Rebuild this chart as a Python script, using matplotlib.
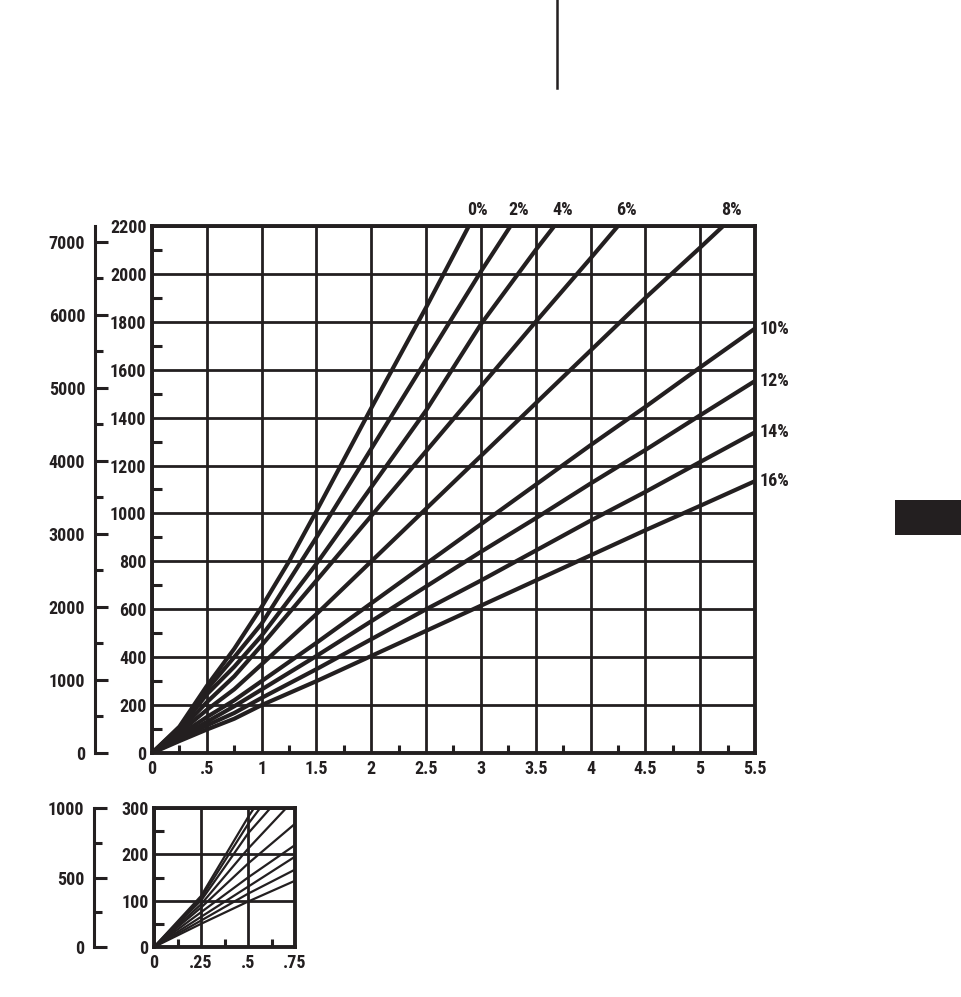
import matplotlib
matplotlib.use('Agg')
import matplotlib.pyplot as plt
from matplotlib.ticker import MultipleLocator
from matplotlib.lines import Line2D
from matplotlib.patches import Rectangle
import numpy as np

plt.rcParams['font.family'] = ['Roboto Condensed', 'Roboto', 'DejaVu Sans']
plt.rcParams['font.weight'] = 'bold'

# ---------------- data ----------------
grades = ['0%', '2%', '4%', '6%', '8%', '10%', '12%', '14%', '16%']

x_0 = [0, 0.25, 0.375, 0.5, 0.75, 1.0, 1.25, 1.5, 2.0, 2.5, 2.89]
y_0 = [0, 110, 195, 280, 435, 610, 800, 1010, 1440, 1860, 2200]

x_2 = [0, 0.25, 0.375, 0.5, 0.75, 1.0, 1.5, 2.0, 2.5, 3.0, 3.27]
y_2 = [0, 105, 185, 265, 400, 540, 900, 1270, 1640, 2010, 2200]

x_4 = [0, 0.25, 0.375, 0.5, 0.75, 1.0, 1.5, 2.0, 2.5, 3.0, 3.5, 3.67]
y_4 = [0, 100, 172, 245, 360, 490, 790, 1110, 1430, 1790, 2100, 2200]

x_6 = [0, 0.25, 0.5, 0.75, 1.0, 1.5, 2.0, 2.5, 3.0, 3.5, 4.0, 4.25]
y_6 = [0, 92, 212, 320, 450, 720, 990, 1260, 1530, 1800, 2065, 2200]

x_8 = [0, 0.25, 0.5, 0.75, 1.0, 1.5, 2.0, 2.5, 3.0, 3.5, 4.0, 4.5, 5.0, 5.21]
y_8 = [0, 85, 180, 266, 370, 580, 800, 1020, 1240, 1460, 1680, 1900, 2110, 2200]

x_10 = [0, 0.25, 0.5, 0.75, 1.0, 1.5, 2.0, 2.5, 3.0, 3.5, 4.0, 4.5, 5.0, 5.5]
y_10 = [0, 75, 150, 220, 300, 460, 625, 790, 955, 1120, 1285, 1445, 1610, 1772]

x_12 = [0, 0.25, 0.5, 0.75, 1.0, 1.5, 2.0, 2.5, 3.0, 3.5, 4.0, 4.5, 5.0, 5.5]
y_12 = [0, 65, 130, 195, 265, 405, 550, 695, 840, 980, 1125, 1265, 1410, 1553]

x_14 = [0, 0.25, 0.5, 0.75, 1.0, 1.5, 2.0, 2.5, 3.0, 3.5, 4.0, 4.5, 5.0, 5.5]
y_14 = [0, 57, 115, 167, 230, 350, 475, 600, 720, 845, 970, 1090, 1215, 1339]

x_16 = [0, 0.25, 0.5, 0.75, 1.0, 1.5, 2.0, 2.5, 3.0, 3.5, 4.0, 4.5, 5.0, 5.5]
y_16 = [0, 50, 98, 143, 200, 300, 405, 510, 615, 720, 825, 930, 1032, 1135]

series_x = [x_0, x_2, x_4, x_6, x_8, x_10, x_12, x_14, x_16]
series_y = [y_0, y_2, y_4, y_6, y_8, y_10, y_12, y_14, y_16]

main_xticks = [0, 0.5, 1, 1.5, 2, 2.5, 3, 3.5, 4, 4.5, 5, 5.5]
main_xlabels = ['0', '.5', '1', '1.5', '2', '2.5', '3', '3.5', '4', '4.5', '5', '5.5']
main_yticks = [0, 200, 400, 600, 800, 1000, 1200, 1400, 1600, 1800, 2000, 2200]
main_ft_ticks = [0, 1000, 2000, 3000, 4000, 5000, 6000, 7000]

inset_xticks = [0, 0.25, 0.5, 0.75]
inset_xlabels = ['0', '.25', '.5', '.75']
inset_yticks = [0, 100, 200, 300]
inset_ft_ticks = [0, 500, 1000]

M_TO_FT = 3.28084
INK = '#231f20'
FS = 13

# ---------------- figure ----------------
W, H = 962, 997
fig = plt.figure(figsize=(W / 100, H / 100), dpi=100)


def frac(x0, y_top, x1, y_bot):
    return [x0 / W, 1 - y_bot / H, (x1 - x0) / W, (y_bot - y_top) / H]


def style_axes(ax, xminor, yminor, fs, grid_lw, spine_lw):
    ax.grid(True, color=INK, lw=grid_lw)
    ax.set_axisbelow(True)
    for s in ax.spines.values():
        s.set_linewidth(spine_lw)
        s.set_color(INK)
    ax.xaxis.set_minor_locator(MultipleLocator(xminor))
    ax.yaxis.set_minor_locator(MultipleLocator(yminor))
    ax.tick_params(which='major', length=0, labelsize=fs, colors=INK)
    ax.tick_params(axis='y', which='minor', direction='in', length=7, width=2.2, color=INK)
    ax.tick_params(axis='x', which='minor', direction='in', length=6, width=2.2, color=INK)
    ax.tick_params(axis='y', which='major', pad=4)
    ax.tick_params(axis='x', which='major', pad=5)


def feet_axis(rect, ymax_m, ticks, minor, fs):
    a = fig.add_axes(rect)
    a.set_ylim(0, ymax_m * M_TO_FT)
    a.set_xticks([])
    for k in ['top', 'right', 'bottom']:
        a.spines[k].set_visible(False)
    a.spines['left'].set_linewidth(2.2)
    a.spines['left'].set_color(INK)
    a.patch.set_alpha(0)
    a.set_yticks(ticks)
    a.set_yticklabels([str(t) for t in ticks])
    a.yaxis.set_minor_locator(MultipleLocator(minor))
    a.tick_params(which='major', direction='in', length=9, width=2.2,
                  labelsize=fs, pad=7, colors=INK)
    a.tick_params(which='minor', direction='in', length=5.5, width=2.2, color=INK)
    return a


# main chart
ax = fig.add_axes(frac(152, 226, 755, 753))
ax.set_xlim(0, 5.5)
ax.set_ylim(0, 2200)
ax.set_xticks(main_xticks)
ax.set_xticklabels(main_xlabels)
ax.set_yticks(main_yticks)
ax.set_yticklabels([str(t) for t in main_yticks])
style_axes(ax, 0.25, 100, FS, 2.0, 2.8)
for xs, ys in zip(series_x, series_y):
    ax.plot(xs, ys, color=INK, lw=3.0, solid_joinstyle='round')

# line labels
for g, xs, ys in zip(grades, series_x, series_y):
    if ys[-1] >= 2200:
        ax.annotate(g, (xs[-1], 2200), xytext=(6, 5), textcoords='offset points',
                    ha='center', va='bottom', fontsize=FS, color=INK,
                    annotation_clip=False)
    else:
        ax.annotate(g, (xs[-1], ys[-1]), xytext=(3, 0), textcoords='offset points',
                    ha='left', va='center', fontsize=FS, color=INK,
                    annotation_clip=False)

feet_axis(frac(95, 226, 96, 753), 2200, main_ft_ticks, 500, FS)

# inset chart
ai = fig.add_axes(frac(154, 808, 295, 947))
ai.set_xlim(0, 0.75)
ai.set_ylim(0, 300)
ai.set_xticks(inset_xticks)
ai.set_xticklabels(inset_xlabels)
ai.set_yticks(inset_yticks)
ai.set_yticklabels([str(t) for t in inset_yticks])
style_axes(ai, 0.125, 50, FS, 2.0, 2.8)
for xs, ys in zip(series_x, series_y):
    ai.plot(xs, ys, color=INK, lw=1.6)

feet_axis(frac(94, 808, 95, 947), 300, inset_ft_ticks, 250, FS)

# page decorations
fig.add_artist(Line2D([557 / W, 557 / W], [1, 1 - 88 / H], color=INK, lw=1.8))
fig.add_artist(Rectangle((895 / W, 1 - 535 / H), 67 / W, 35 / H, color=INK, lw=0))

fig.savefig('out.png', dpi=100)
